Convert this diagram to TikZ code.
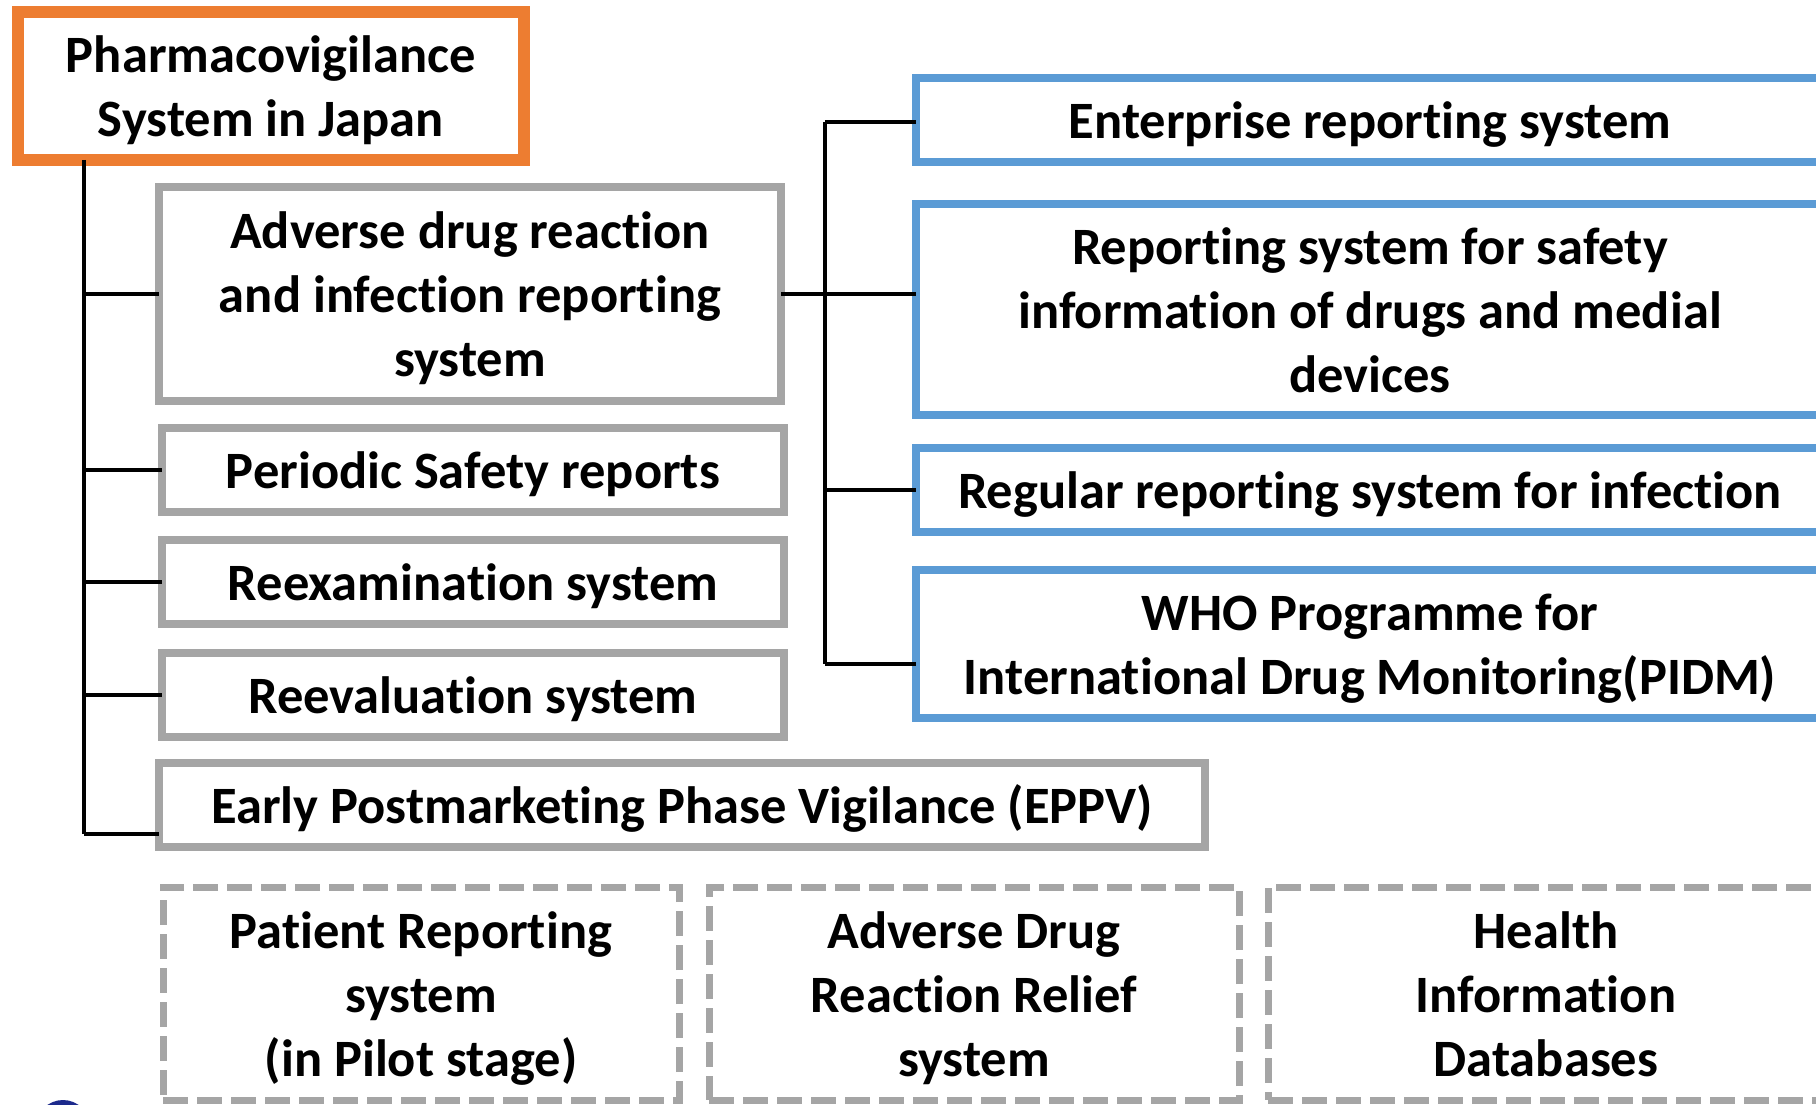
\documentclass[tikz,border=0pt]{standalone}
\usepackage{fontspec}
\setmainfont{Carlito}[Ligatures={NoCommon,NoContextual,NoRequired}]
\usetikzlibrary{calc}
\definecolor{orangebox}{RGB}{237,125,49}
\definecolor{graybox}{RGB}{165,165,165}
\definecolor{bluebox}{RGB}{91,155,213}
\definecolor{navy}{RGB}{28,42,140}
\newcommand\boxtext[1]{\raisebox{-6pt}[\height][\depth]{\begin{tabular}{@{}c@{}}#1\end{tabular}}}
\tikzset{
  txt/.style={font=\fontsize{52.5}{64}\selectfont\bfseries, inner sep=0pt, outer sep=0pt},
  rootbox/.style={txt, draw=orangebox, line width=11.5pt, rectangle},
  graybx/.style={txt, draw=graybox, line width=7.5pt, rectangle},
  bluebx/.style={txt, draw=bluebox, line width=7.5pt, rectangle},
  dashbx/.style={txt, draw=graybox, line width=7pt, rectangle, dash pattern=on 25pt off 9pt},
  conn/.style={draw=black, line width=4pt}
}
\begin{document}
\begin{tikzpicture}[x=1pt,y=-1pt]
\useasboundingbox (0,0) rectangle (1816,1105);
\fill[white] (0,0) rectangle (1816,1105);
\clip (0,0) rectangle (1816,1105);

% root
\node[rootbox, minimum width=506pt, minimum height=148pt] (root) at (271,86) {\boxtext{Pharmacovigilance\\System in Japan}};

% gray boxes
\node[graybx, minimum width=622pt, minimum height=214pt] (a1) at (470,294) {\boxtext{Adverse drug reaction\\and infection reporting\\system}};
\node[graybx, minimum width=622pt, minimum height=84pt] (a2) at (473,470) {\boxtext{Periodic Safety reports}};
\node[graybx, minimum width=622pt, minimum height=84pt] (a3) at (473,582) {\boxtext{Reexamination system}};
\node[graybx, minimum width=622pt, minimum height=84pt] (a4) at (473,695) {\boxtext{Reevaluation system}};
\node[graybx, minimum width=1046pt, minimum height=84pt] (a5) at (682,805) {\boxtext{Early Postmarketing Phase Vigilance (EPPV)}};

% blue boxes
\node[bluebx, minimum width=908pt, minimum height=84pt] (b1) at (1370,120) {\boxtext{Enterprise reporting system}};
\node[bluebx, minimum width=908pt, minimum height=211pt] (b2) at (1370,309.5) {\boxtext{Reporting system for safety\\information of drugs and medial\\devices}};
\node[bluebx, minimum width=908pt, minimum height=84pt] (b3) at (1370,490) {\boxtext{Regular reporting system for infection}};
\node[bluebx, minimum width=908pt, minimum height=148pt] (b4) at (1370,644) {\boxtext{WHO Programme for\\International Drug Monitoring(PIDM)}};

% dashed boxes
\node[dashbx, minimum width=516pt, minimum height=213pt] (d1) at (421,993.5) {\boxtext{Patient Reporting\\system\\(in Pilot stage)}};
\node[dashbx, minimum width=530pt, minimum height=213pt] (d2) at (974,993.5) {\boxtext{Adverse Drug\\Reaction Relief\\system}};
\node[dashbx, minimum width=556pt, minimum height=213pt] (d3) at (1546,993.5) {\boxtext{Health\\Information\\Databases}};

% partial logo circle
\fill[navy] (63,1127) circle (27);

% left trunk
\coordinate (tk) at (84,0);
\coordinate (e5) at ($(a5.south west)+(0,-13)$);
\draw[conn] (tk |- root.south) -- (tk |- e5);
\draw[conn] (tk |- a1.west) -- (a1.west);
\draw[conn] (tk |- a2.west) -- (a2.west);
\draw[conn] (tk |- a3.west) -- (a3.west);
\draw[conn] (tk |- a4.west) -- (a4.west);
\draw[conn] (tk |- e5) -- (e5);

% right trunk
\coordinate (rk) at (825,0);
\coordinate (e1) at ($(b1.west)+(0,2)$);
\coordinate (e4) at ($(b4.west)+(0,20)$);
\draw[conn] (rk |- e1) -- (rk |- e4);
\draw[conn] (rk |- e1) -- (e1);
\draw[conn] (a1.east) -- (b2.west |- a1.east);
\draw[conn] (rk |- b3.west) -- (b3.west);
\draw[conn] (rk |- e4) -- (e4);
\end{tikzpicture}
\end{document}
